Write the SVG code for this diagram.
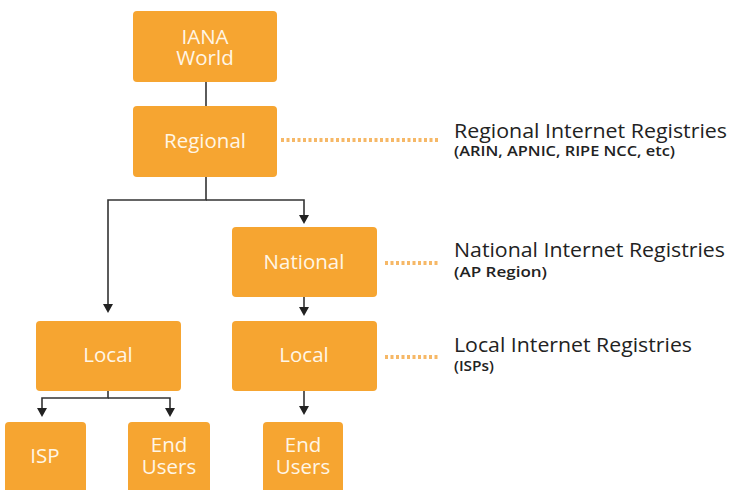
<svg xmlns="http://www.w3.org/2000/svg" width="733" height="490" viewBox="0 0 733 490">
<defs>
<style>
.box{fill:#F6A531;}
.bt{font-family:"Open Sans","Noto Sans",sans-serif;font-size:20.5px;fill:#FFF6E6;text-anchor:middle;}
.ln{stroke:#333;stroke-width:1.6;fill:none;}
.dot{stroke:#F6B867;stroke-width:4;stroke-dasharray:3 2.5;fill:none;}
.h{font-family:"Open Sans","Noto Sans",sans-serif;font-size:20px;fill:#222;}
.s{font-family:"Open Sans","Noto Sans",sans-serif;font-size:14.5px;font-weight:600;fill:#222;}
</style>
</defs>
<rect width="733" height="490" fill="#fff"/>
<g id="connectors">
<line class="ln" x1="206" y1="82" x2="206" y2="106"/>
<polyline class="ln" points="206,177 206,200 108,200 108,306"/>
<polyline class="ln" points="206,200 304,200 304,218"/>
<line class="ln" x1="304" y1="297" x2="304" y2="310"/>
<polyline class="ln" points="108,391 108,398 42,398 42,410"/>
<polyline class="ln" points="108,398 170,398 170,410"/>
<line class="ln" x1="304" y1="391" x2="304" y2="408"/>
<path d="M103,304 L113,304 L108,313 Z M299,215 L309,215 L304,224 Z M299,307 L309,307 L304,316 Z M37,408 L47,408 L42,417 Z M165,408 L175,408 L170,417 Z M299,406 L309,406 L304,415 Z" fill="#222"/>
<line class="dot" x1="281" y1="140" x2="438" y2="140"/>
<line class="dot" x1="385" y1="263" x2="440" y2="263"/>
<line class="dot" x1="385" y1="357" x2="440" y2="357"/>
</g>
<g id="iana"><rect class="box" x="133" y="11" width="144" height="71" rx="4"/><text class="bt" x="205" y="44">IANA</text><text class="bt" x="205" y="65">World</text></g>
<g id="regional"><rect class="box" x="133" y="106" width="144" height="71" rx="4"/><text class="bt" x="205" y="148">Regional</text></g>
<g id="national"><rect class="box" x="232" y="227" width="145" height="70" rx="4"/><text class="bt" x="304" y="269">National</text></g>
<g id="local1"><rect class="box" x="36" y="321" width="145" height="70" rx="4"/><text class="bt" x="108" y="362">Local</text></g>
<g id="local2"><rect class="box" x="232" y="321" width="145" height="70" rx="4"/><text class="bt" x="304" y="362">Local</text></g>
<g id="isp"><rect class="box" x="5" y="422" width="81" height="80" rx="4"/><text class="bt" x="45" y="463">ISP</text></g>
<g id="endusers1"><rect class="box" x="128" y="422" width="82" height="80" rx="4"/><text class="bt" x="169" y="452">End</text><text class="bt" x="169" y="474">Users</text></g>
<g id="endusers2"><rect class="box" x="263" y="422" width="80" height="80" rx="4"/><text class="bt" x="303" y="452">End</text><text class="bt" x="303" y="474">Users</text></g>
<g id="label-rir"><text class="h" x="454" y="138" textLength="273" lengthAdjust="spacingAndGlyphs">Regional Internet Registries</text><text class="s" x="454" y="156" textLength="221" lengthAdjust="spacingAndGlyphs">(ARIN, APNIC, RIPE NCC, etc)</text></g>
<g id="label-nir"><text class="h" x="454" y="257" textLength="271" lengthAdjust="spacingAndGlyphs">National Internet Registries</text><text class="s" x="454" y="277" textLength="93" lengthAdjust="spacingAndGlyphs">(AP Region)</text></g>
<g id="label-lir"><text class="h" x="454" y="352" textLength="238" lengthAdjust="spacingAndGlyphs">Local Internet Registries</text><text class="s" x="454" y="371" textLength="40" lengthAdjust="spacingAndGlyphs">(ISPs)</text></g>
</svg>
